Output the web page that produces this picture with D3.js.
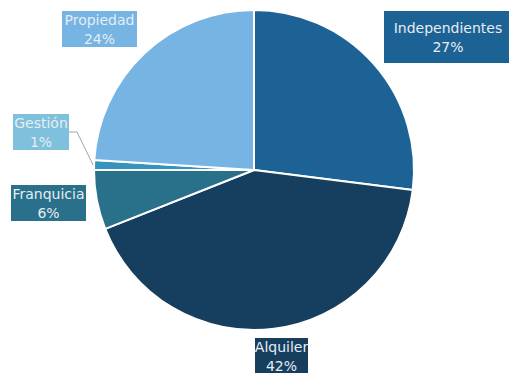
<!DOCTYPE html>
<html>
<head>
<meta charset="utf-8">
<script src="https://cdn.jsdelivr.net/npm/d3@7"></script>
<style>
  html, body { margin: 0; padding: 0; background: #fff; }
  svg { display: block; }
  .lbl text { font-family: "DejaVu Sans", sans-serif; font-size: 14px; fill: #e6edf4; }
</style>
</head>
<body>
<svg id="chart" width="509" height="373"></svg>
<script>
const categories = ["Independientes", "Alquiler", "Franquicia", "Gestión", "Propiedad"];
const shares = [27, 42, 6, 1, 24];
const sliceColors = ["#1d6294", "#163f5f", "#29708b", "#3594bd", "#75b4e3"];
const boxColors = ["#1d6294", "#163f5f", "#29708b", "#7fc1dc", "#75b4e3"];

const W = 509, H = 373;
const cx = 254, cy = 170, R = 160;

const svg = d3.select("#chart");

const color = d3.scaleOrdinal().domain(categories).range(sliceColors);
const boxColor = d3.scaleOrdinal().domain(categories).range(boxColors);

const pie = d3.pie().sort(null).value(d => d.value);
const arc = d3.arc().innerRadius(0).outerRadius(R);

const data = categories.map((c, i) => ({ name: c, value: shares[i] }));
const arcs = pie(data);

const g = svg.append("g").attr("transform", `translate(${cx},${cy})`);

g.selectAll("path")
  .data(arcs)
  .enter()
  .append("path")
    .attr("d", arc)
    .attr("fill", d => color(d.data.name))
    .attr("stroke", "#fff")
    .attr("stroke-width", 2)
    .attr("stroke-linejoin", "round");

// label boxes: [left, top, width, height] for each category
const boxes = {
  "Independientes": [384, 11, 130, 52],
  "Alquiler": [255, 338, 53, 40],
  "Franquicia": [11, 185, 75, 36],
  "Gestión": [13, 114, 56, 36],
  "Propiedad": [62, 11, 75, 36]
};

// leader line for the thin slice
const gestion = arcs.find(d => d.data.name === "Gestión");
const mid = (gestion.startAngle + gestion.endAngle) / 2;
const edge = [cx + Math.sin(mid) * (R + 1), cy - Math.cos(mid) * (R + 1)];
const gb = boxes["Gestión"];
svg.append("polyline")
  .attr("points", [[gb[0] + gb[2], gb[1] + 18], [gb[0] + gb[2] + 8, gb[1] + 18], edge].map(p => p.join(",")).join(" "))
  .attr("fill", "none")
  .attr("stroke", "#a5a5a5")
  .attr("stroke-width", 1);

const lbl = svg.selectAll("g.lbl")
  .data(arcs)
  .enter()
  .append("g")
    .attr("class", "lbl");

lbl.append("rect")
  .attr("x", d => boxes[d.data.name][0])
  .attr("y", d => boxes[d.data.name][1])
  .attr("width", d => boxes[d.data.name][2])
  .attr("height", d => boxes[d.data.name][3])
  .attr("fill", d => boxColor(d.data.name));

lbl.each(function(d) {
  const b = boxes[d.data.name];
  const tx = d.data.name === "Independientes" ? b[0] + 64 : b[0] + b[2] / 2;
  const top = d.data.name === "Independientes" ? b[1] + 8 : b[1];
  const t = d3.select(this).append("text").attr("text-anchor", "middle");
  t.append("tspan").attr("x", tx).attr("y", top + 14).text(d.data.name);
  t.append("tspan").attr("x", tx).attr("y", top + 33).text(d.data.value + "%");
});
</script>
</body>
</html>
